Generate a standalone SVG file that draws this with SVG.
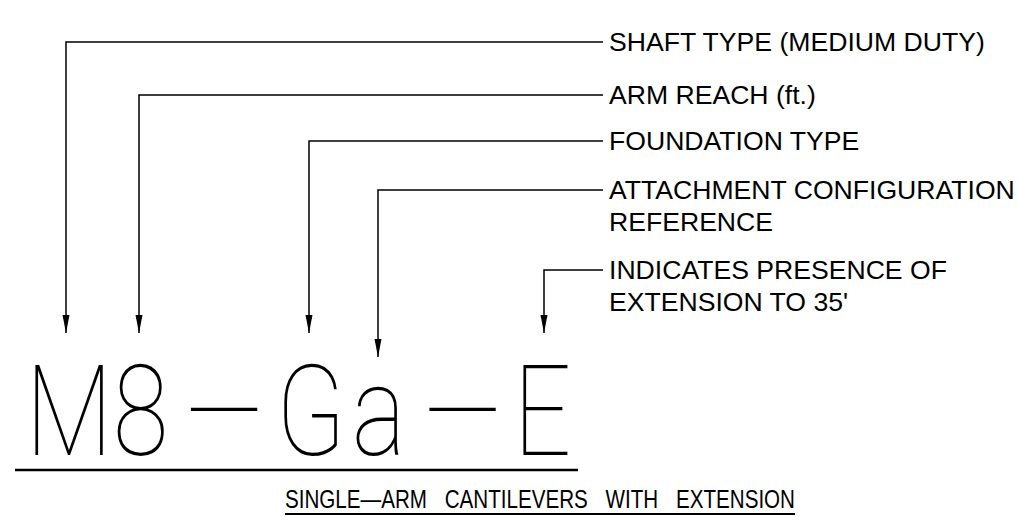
<svg xmlns="http://www.w3.org/2000/svg" width="1018" height="527" viewBox="0 0 1018 527">
<style>
.bg{fill:#ffffff}
.lead{fill:none;stroke:#000;stroke-width:1.5}
.lbl{font-family:"Liberation Sans",Arial,sans-serif;font-size:26.6px;fill:#000}
.big{font-family:Roboto,"Liberation Sans",sans-serif;font-weight:100;font-size:127px;fill:#000}
.ttl{font-family:"Liberation Sans",Arial,sans-serif;font-size:26px;fill:#000;white-space:pre;word-spacing:4px}
.ul{stroke:#000;fill:none}
</style>
<defs>
<marker id="arr" viewBox="-18 -4 18 8" markerWidth="18" markerHeight="8" refX="0" refY="0" orient="auto" markerUnits="userSpaceOnUse">
<path d="M0,0 L-18,-3.5 L-18,3.5 Z" fill="#000"/>
</marker>
</defs>
<rect class="bg" x="0" y="0" width="1018" height="527"/>
<g id="connectors">
<path class="lead" d="M603,42 H66 V333" marker-end="url(#arr)"/>
<path class="lead" d="M603,95 H139 V333" marker-end="url(#arr)"/>
<path class="lead" d="M603,141 H309 V333" marker-end="url(#arr)"/>
<path class="lead" d="M603,190 H378 V357" marker-end="url(#arr)"/>
<path class="lead" d="M603,270 H544 V333" marker-end="url(#arr)"/>
</g>
<g id="label-shaft"><text class="lbl" x="609" y="51">SHAFT TYPE (MEDIUM DUTY)</text></g>
<g id="label-arm"><text class="lbl" x="609" y="104">ARM REACH (ft.)</text></g>
<g id="label-foundation"><text class="lbl" x="609" y="150">FOUNDATION TYPE</text></g>
<g id="label-attachment"><text class="lbl" x="609" y="199">ATTACHMENT CONFIGURATION</text><text class="lbl" x="609" y="231">REFERENCE</text></g>
<g id="label-extension"><text class="lbl" x="609" y="279">INDICATES PRESENCE OF</text><text class="lbl" x="609" y="311">EXTENSION TO 35'</text></g>
<g id="designation">
<text class="big" transform="scale(0.8,1)" x="32 141 232 345 440 530 642" y="455">M8—Ga—E</text>
<line class="ul" x1="15" y1="470" x2="578" y2="470" stroke-width="2.5"/>
</g>
<g id="title">
<text class="ttl" x="285" y="508" textLength="510" lengthAdjust="spacingAndGlyphs">SINGLE—ARM  CANTILEVERS  WITH  EXTENSION</text>
<line class="ul" x1="285" y1="514" x2="795" y2="514" stroke-width="2"/>
</g>
</svg>
